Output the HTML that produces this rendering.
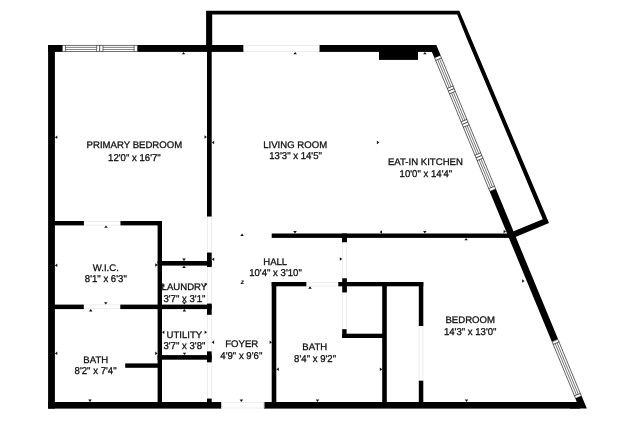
<!DOCTYPE html>
<html><head><meta charset="utf-8">
<style>
html,body{margin:0;padding:0;background:#fff;}
body{width:640px;height:426px;overflow:hidden;}
svg{display:block;}
text{text-rendering:geometricPrecision;font-family:"Liberation Sans",sans-serif;font-size:96px;fill:#111;stroke:#111;stroke-width:3;text-anchor:middle;}
.w{fill:#000;}
.f{stroke:#e2e2e2;stroke-width:0.6;fill:none;}
.win{stroke:#333;stroke-width:0.7;fill:#fff;}
.win .mid{stroke:#333;stroke-width:0.6;}
.m{fill:#111;}
</style></head><body>
<svg width="640" height="426" viewBox="0 0 640 426">
<rect width="640" height="426" fill="#fff"/>

<polygon class="w" points="206.1,10.7 459.4,10.7 549.0,223.1 510,239.3 510,232.75 542.76,219.15 501.2,120 467.4,40 457.2,14.5 212.2,14.5 212.2,46 206.1,46"/>
<rect class="w" x="48.1" y="45" width="6.8" height="363.6"/>
<rect class="w" x="48.1" y="45" width="14.2" height="6.9"/>
<rect class="w" x="137.3" y="45" width="106.4" height="6.9"/>
<rect class="w" x="319.2" y="45" width="113" height="6.9"/>
<rect class="w" x="379" y="45" width="39" height="14.9"/>
<rect class="w" x="48.1" y="402" width="173.3" height="6.6"/>
<rect class="w" x="263.9" y="402" width="316.3" height="6.6"/>

<rect class="f" x="243.7" y="45.3" width="75.5" height="6.3"/>
<rect class="f" x="207.3" y="216.5" width="4.1" height="36.1"/>
<rect class="f" x="207.3" y="267" width="4.1" height="36.6"/>
<rect class="f" x="207.3" y="314.8" width="4.1" height="36.6"/>
<rect class="f" x="207.3" y="362.3" width="4.1" height="36.3"/>
<rect class="f" x="83.9" y="221.3" width="36.6" height="3.8"/>
<rect class="f" x="83.8" y="304.9" width="36.5" height="3.9"/>
<rect class="f" x="221.4" y="402.3" width="42.8" height="5.7"/>
<rect class="f" x="306.3" y="282.3" width="32" height="3.7"/>
<rect class="f" x="342.5" y="242.2" width="4.0" height="36.1"/>
<rect class="f" x="342.5" y="292.4" width="3.8" height="36.8"/>
<rect class="f" x="419.1" y="326" width="3.9" height="54.7"/>
<g class="win">
<rect x="62.3" y="45.3" width="37.5" height="6.3"/>
<path d="M65.45,45.3V51.6M96.64999999999999,45.3V51.6"/>
<path class="mid" d="M65.45,47.4H96.64999999999999M65.45,49.5H96.64999999999999"/>
<rect x="99.8" y="45.3" width="37.500000000000014" height="6.3"/>
<path d="M102.95,45.3V51.6M134.15,45.3V51.6"/>
<path class="mid" d="M102.95,47.4H134.15M102.95,49.5H134.15"/>
</g>
<g transform="translate(437.47,56.50) rotate(67.520)">
<rect class="w" x="144.59" y="-3.38" width="162.77" height="6.76"/>
<g class="win">
<rect x="0.00" y="-3.13" width="36.15" height="6.26"/>
<path d="M2.90,-3.38V3.38M33.25,-3.38V3.38"/>
<path class="mid" d="M2.90,-1H33.25M2.90,1H33.25"/>
<rect x="36.15" y="-3.13" width="36.15" height="6.26"/>
<path d="M39.05,-3.38V3.38M69.39,-3.38V3.38"/>
<path class="mid" d="M39.05,-1H69.39M39.05,1H69.39"/>
<rect x="72.29" y="-3.13" width="36.15" height="6.26"/>
<path d="M75.19,-3.38V3.38M105.54,-3.38V3.38"/>
<path class="mid" d="M75.19,-1H105.54M75.19,1H105.54"/>
<rect x="108.44" y="-3.13" width="36.15" height="6.26"/>
<path d="M111.34,-3.38V3.38M141.69,-3.38V3.38"/>
<path class="mid" d="M111.34,-1H141.69M111.34,1H141.69"/>
<rect x="307.35" y="-3.13" width="61.47" height="6.26"/>
<path d="M310.25,-3.38V3.38M365.93,-3.38V3.38"/>
<path class="mid" d="M310.25,-1H365.93M310.25,1H365.93"/>
</g>
</g>
<polygon class="w" points="425,45 436.37,45 440.59,55.21 434.35,57.79 431.91,51.9 425,51.9"/>
<polygon class="w" points="581.61,396.01 586.83,408.6 570,408.6 570,402 576.78,402 575.37,398.59"/>

<!-- primary/living wall -->
<rect class="w" x="207" y="45" width="4.7" height="171.5"/>
<rect class="w" x="207" y="252.6" width="4.7" height="14.4"/>
<rect class="w" x="207" y="303.6" width="4.7" height="11.2"/>
<rect class="w" x="207" y="351.4" width="4.7" height="10.9"/>
<rect class="w" x="207" y="398.6" width="4.7" height="5"/>
<!-- WIC -->
<rect class="w" x="50" y="221" width="33.9" height="4.4"/>
<rect class="w" x="120.5" y="221" width="41.5" height="4.4"/>
<rect class="w" x="157.6" y="221" width="4.4" height="185"/>
<rect class="w" x="50" y="304.6" width="33.8" height="4.5"/>
<rect class="w" x="120.3" y="304.6" width="91.4" height="4.5"/>
<rect class="w" x="157.6" y="261" width="54.1" height="4.6"/>
<rect class="w" x="157.6" y="355.1" width="54.1" height="4.6"/>
<rect class="w" x="125.2" y="363.4" width="34" height="4.4"/>
<!-- kitchen bottom wall -->
<rect class="w" x="271.7" y="233.5" width="238.3" height="4.4"/>
<rect class="w" x="342" y="233.5" width="5" height="8.7"/>
<!-- bath -->
<rect class="w" x="271.7" y="282" width="4.6" height="124"/>
<rect class="w" x="271.7" y="282" width="34.6" height="4.3"/>
<rect class="w" x="338.3" y="282" width="85" height="4.3"/>
<rect class="w" x="342.2" y="278.3" width="4.7" height="14.1"/>
<rect class="w" x="342.2" y="329.2" width="4.4" height="8.8"/>
<rect class="w" x="342.2" y="333.7" width="42" height="4.3"/>
<rect class="w" x="382.2" y="282" width="4.6" height="122"/>
<rect class="w" x="418.8" y="282" width="4.5" height="44"/>
<rect class="w" x="418.8" y="380.7" width="4.5" height="23"/>

<polygon class="m" points="183.5,51.9 181.8,54.3 185.2,54.3"/>
<polygon class="m" points="295.2,51.9 293.4,54.3 296.9,54.3"/>
<polygon class="m" points="424.9,51.9 423.1,54.3 426.6,54.3"/>
<polygon class="m" points="54.9,137.2 57.3,135.4 57.3,138.9"/>
<polygon class="m" points="206.9,137.1 204.5,135.3 204.5,138.8"/>
<polygon class="m" points="211.8,142.5 214.2,140.8 214.2,144.2"/>
<polygon class="m" points="379.3,142.4 376.9,140.7 376.9,144.2"/>
<polygon class="m" points="106.0,225.4 104.2,227.8 107.8,227.8"/>
<polygon class="m" points="242.1,233.5 240.3,235.9 243.8,235.9"/>
<polygon class="m" points="295.0,233.5 293.2,231.1 296.8,231.1"/>
<polygon class="m" points="54.9,265.4 57.3,263.6 57.3,267.1"/>
<polygon class="m" points="157.6,265.0 155.2,263.2 155.2,266.8"/>
<polygon class="m" points="184.0,261.0 182.2,258.6 185.8,258.6"/>
<polygon class="m" points="184.0,265.6 182.2,268.0 185.8,268.0"/>
<polygon class="m" points="211.8,259.2 214.2,257.4 214.2,260.9"/>
<polygon class="m" points="310.0,286.3 308.2,288.7 311.8,288.7"/>
<polygon class="m" points="184.3,304.6 182.6,302.2 186.1,302.2"/>
<polygon class="m" points="184.3,309.1 182.6,311.5 186.1,311.5"/>
<polygon class="m" points="105.8,304.6 104.0,302.2 107.5,302.2"/>
<polygon class="m" points="90.7,309.1 89.0,311.5 92.5,311.5"/>
<polygon class="m" points="162.0,285.5 164.4,283.8 164.4,287.2"/>
<polygon class="m" points="207.0,284.4 204.6,282.6 204.6,286.1"/>
<polygon class="m" points="162.0,332.3 164.4,330.6 164.4,334.1"/>
<polygon class="m" points="207.0,332.3 204.6,330.6 204.6,334.1"/>
<polygon class="m" points="211.7,342.2 214.1,340.4 214.1,343.9"/>
<polygon class="m" points="272.0,342.2 269.6,340.4 269.6,343.9"/>
<polygon class="m" points="276.4,369.2 278.8,367.4 278.8,370.9"/>
<polygon class="m" points="382.2,369.2 379.8,367.4 379.8,370.9"/>
<polygon class="m" points="184.5,355.1 182.8,352.7 186.2,352.7"/>
<polygon class="m" points="54.9,353.4 57.3,351.6 57.3,355.1"/>
<polygon class="m" points="157.6,353.4 155.2,351.6 155.2,355.1"/>
<polygon class="m" points="90.0,402.0 88.2,399.6 91.8,399.6"/>
<polygon class="m" points="241.3,402.0 239.6,399.6 243.1,399.6"/>
<polygon class="m" points="317.5,402.0 315.8,399.6 319.2,399.6"/>
<polygon class="m" points="466.5,402.0 464.8,399.6 468.2,399.6"/>
<polygon class="m" points="379.6,232.0 382.0,230.2 382.0,233.8"/>
<polygon class="m" points="424.8,233.5 423.1,231.1 426.6,231.1"/>
<polygon class="m" points="466.1,237.9 464.4,240.3 467.9,240.3"/>
<polygon class="m" points="342.2,259.0 339.8,257.2 339.8,260.8"/>
<polygon class="m" points="524.5,281.0 522.1,279.2 522.1,282.8"/>
<polygon class="m" points="506.0,231.5 503.6,229.8 503.6,233.2"/>
<g opacity="0.999">
<text transform="translate(134.4,148.40) scale(0.1)">PRIMARY BEDROOM</text>
<text transform="translate(134.4,160.80) scale(0.1,0.104)">12'0&quot; x 16'7&quot;</text>
<text transform="translate(295.2,148.10) scale(0.1)">LIVING ROOM</text>
<text transform="translate(295.6,159.30) scale(0.1,0.104)">13'3&quot; x 14'5&quot;</text>
<text transform="translate(425.4,165.45) scale(0.1)">EAT-IN KITCHEN</text>
<text transform="translate(425.9,177.00) scale(0.1,0.104)">10'0&quot; x 14'4&quot;</text>
<text transform="translate(470.2,323.30) scale(0.1)">BEDROOM</text>
<text transform="translate(470.2,334.60) scale(0.1,0.104)">14'3&quot; x 13'0&quot;</text>
<text transform="translate(105.8,271.10) scale(0.1)">W.I.C.</text>
<text transform="translate(105.8,282.40) scale(0.1,0.104)">8'1&quot; x 6'3&quot;</text>
<text transform="translate(95.8,362.80) scale(0.1)">BATH</text>
<text transform="translate(95.6,373.80) scale(0.1,0.104)">8'2&quot; x 7'4&quot;</text>
<text transform="translate(184.4,290.30) scale(0.1)">LAUNDRY</text>
<text transform="translate(184.4,301.90) scale(0.1,0.104)">3'7&quot; x 3'1&quot;</text>
<text transform="translate(184.4,337.70) scale(0.1)">UTILITY</text>
<text transform="translate(184.4,349.30) scale(0.1,0.104)">3'7&quot; x 3'8&quot;</text>
<text transform="translate(241.7,347.40) scale(0.1)">FOYER</text>
<text transform="translate(241.3,359.00) scale(0.1,0.104)">4'9&quot; x 9'6&quot;</text>
<text transform="translate(275.2,265.10) scale(0.1)">HALL</text>
<text transform="translate(275.5,275.60) scale(0.1,0.104)">10'4&quot; x 3'10&quot;</text>
<text transform="translate(314.8,350.20) scale(0.1)">BATH</text>
<text transform="translate(315.1,361.70) scale(0.1,0.104)">8'4&quot; x 9'2&quot;</text>
<text transform="translate(242.4,283.7) scale(0.1)" style="font-size:64px;font-style:italic;font-weight:bold;stroke-width:1.5">z</text>
</g>
</svg>
</body></html>
